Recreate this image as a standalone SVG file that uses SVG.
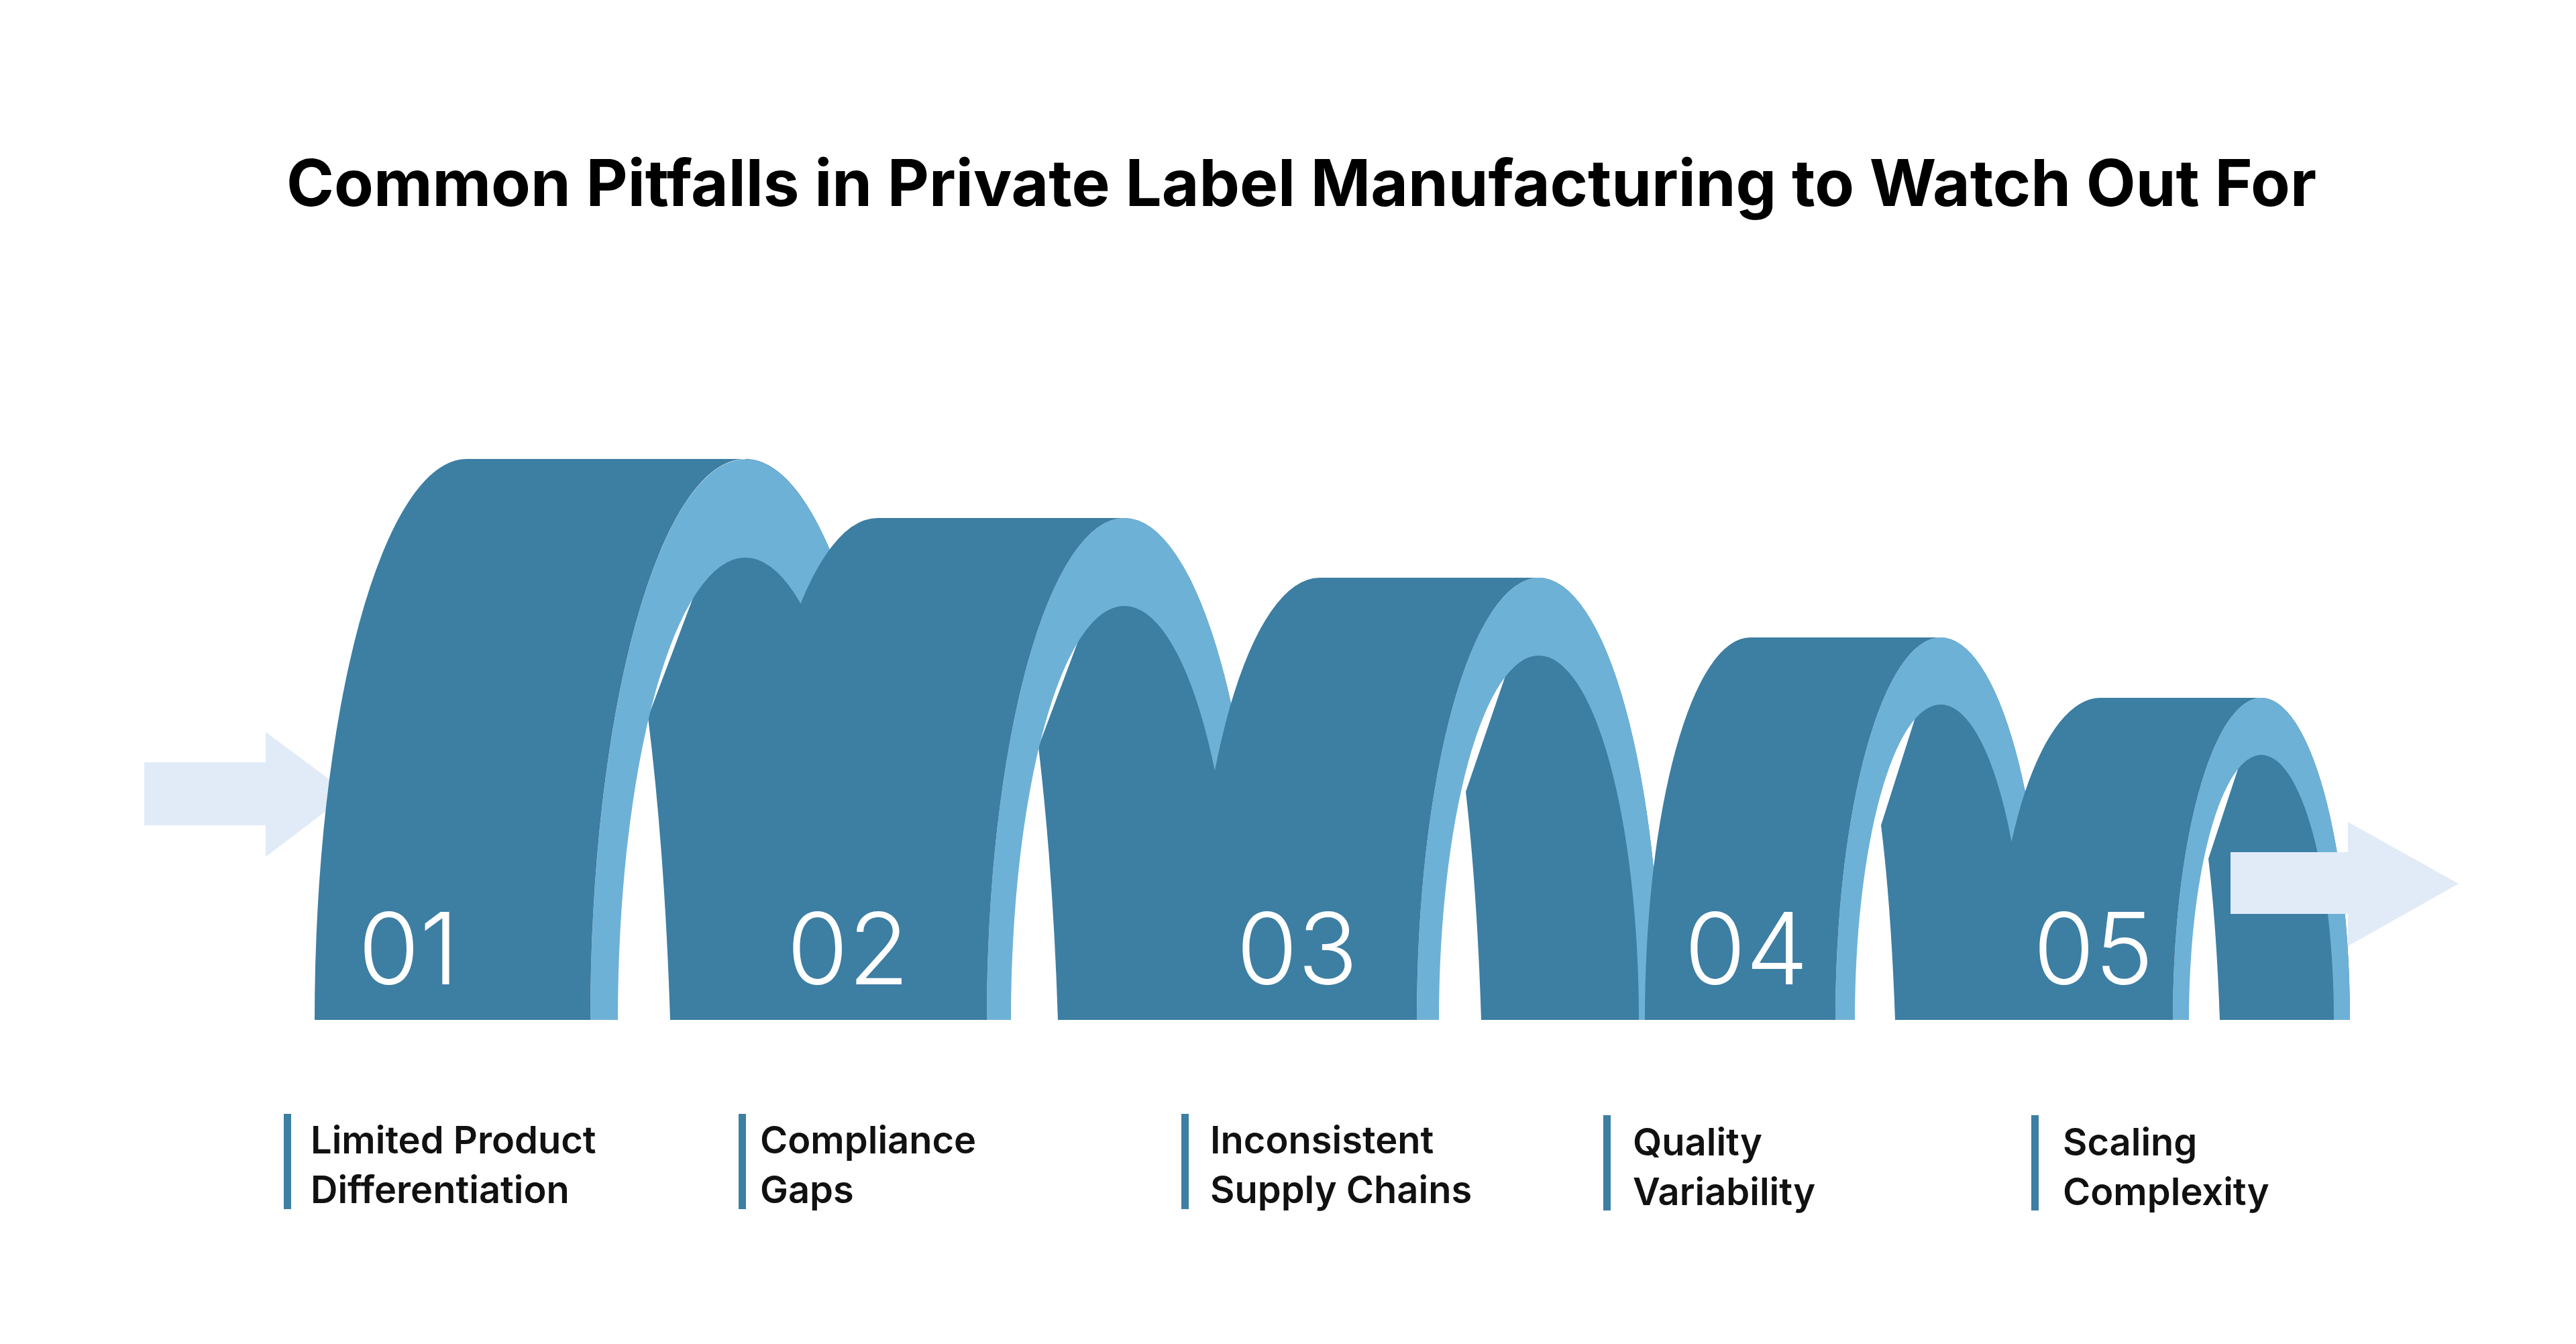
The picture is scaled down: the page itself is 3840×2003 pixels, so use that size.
<svg xmlns="http://www.w3.org/2000/svg" width="3840" height="2003" viewBox="0 0 3840 2003">
<style>
.d{fill:#3d7ea3}.l{fill:#6eb1d6}.ar{fill:#e1ebf8}
.num{font-family:Inter,"Liberation Sans",sans-serif;font-weight:300;font-size:148px;fill:#fff}
.lab{font-family:Inter,"Liberation Sans",sans-serif;font-weight:600;font-size:56px;fill:#111}
.bar{fill:#3d7ea3}
.title{font-family:Inter,"Liberation Sans",sans-serif;font-weight:700;font-size:96px;fill:#000}
</style>
<rect width="3840" height="2003" fill="#fff"/>
<text class="title" x="1940" y="307" text-anchor="middle">Common Pitfalls in Private Label Manufacturing to Watch Out For</text>
<g id="arrow-in"><path class="ar" d="M215 1136H396V1091L520 1183L396 1277V1230H215Z"/></g>
<g id="u1">
<path class="d" d="M999 1520Q991 1270 966 1069L1111 684A231 836 0 0 1 1342 1520Z"/>
<path class="l" d="M880 1520A231 836 0 0 1 1342 1520L1301 1520A190 689 0 0 0 921 1520Z"/>
<path class="d" d="M469 1520A227 836 0 0 1 696 684L1111 684A231 836 0 0 0 880 1520Z"/>
<text class="num" x="534" y="1467">01</text>
</g>
<g id="u2">
<path class="d" d="M1577 1520Q1570 1300 1548 1113L1676 772A205 748 0 0 1 1881 1520Z"/>
<path class="l" d="M1471 1520A205 748 0 0 1 1881 1520L1845 1520A169 617 0 0 0 1507 1520Z"/>
<path class="d" d="M1103 1520A205 748 0 0 1 1308 772L1676 772A205 748 0 0 0 1471 1520Z"/>
<text class="num" x="1173" y="1467">02</text>
</g>
<g id="u3">
<path class="d" d="M2208 1520Q2202 1330 2185 1180L2294 861A182 659 0 0 1 2476 1520Z"/>
<path class="l" d="M2112 1520A182 659 0 0 1 2476 1520L2443 1520A149 543 0 0 0 2145 1520Z"/>
<path class="d" d="M1778 1520A189 659 0 0 1 1967 861L2294 861A182 659 0 0 0 2112 1520Z"/>
<text class="num" x="1843" y="1467">03</text>
</g>
<g id="u4">
<path class="d" d="M2825 1520Q2819 1350 2804 1230L2893 950A157 570 0 0 1 3050 1520Z"/>
<path class="l" d="M2736 1520A157 570 0 0 1 3050 1520L3021 1520A128 470 0 0 0 2765 1520Z"/>
<path class="d" d="M2452 1520A157 570 0 0 1 2609 950L2893 950A157 570 0 0 0 2736 1520Z"/>
<text class="num" x="2511" y="1467">04</text>
</g>
<g id="u5">
<path class="d" d="M3309 1520Q3304 1380 3292 1280L3371 1040A132 480 0 0 1 3503 1520Z"/>
<path class="l" d="M3239 1520A132 480 0 0 1 3503 1520L3479 1520A108 395 0 0 0 3263 1520Z"/>
<path class="d" d="M2972 1520A159 480 0 0 1 3131 1040L3371 1040A132 480 0 0 0 3239 1520Z"/>
<text class="num" x="3031" y="1467">05</text>
</g>
<g id="arrow-out"><path class="ar" d="M3325 1270H3500V1225L3665 1317L3500 1410V1362H3325Z"/></g>
<g id="labels">
<rect class="bar" x="423" y="1660" width="11" height="142"/>
<text class="lab" x="463" y="1719">Limited Product</text><text class="lab" x="463" y="1793">Differentiation</text>
<rect class="bar" x="1101" y="1660" width="11" height="142"/>
<text class="lab" x="1133" y="1719">Compliance</text><text class="lab" x="1133" y="1793">Gaps</text>
<rect class="bar" x="1761" y="1660" width="11" height="142"/>
<text class="lab" x="1804" y="1719">Inconsistent</text><text class="lab" x="1804" y="1793">Supply Chains</text>
<rect class="bar" x="2390" y="1662" width="11" height="142"/>
<text class="lab" x="2434" y="1722">Quality</text><text class="lab" x="2434" y="1796">Variability</text>
<rect class="bar" x="3028" y="1662" width="11" height="142"/>
<text class="lab" x="3075" y="1722">Scaling</text><text class="lab" x="3075" y="1796">Complexity</text>
</g>
</svg>
